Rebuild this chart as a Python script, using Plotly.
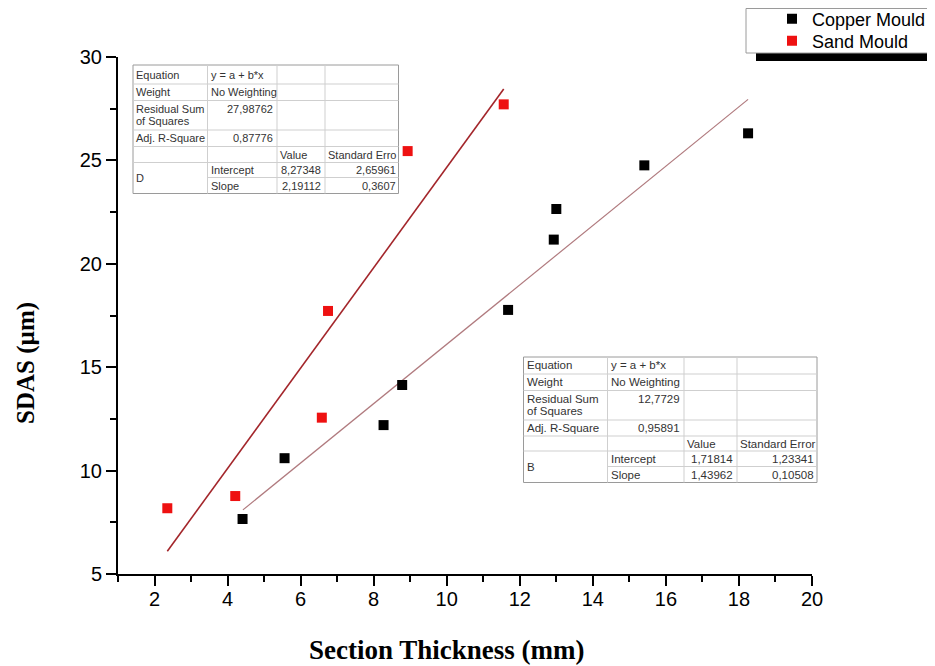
import plotly.graph_objects as go

# ---------------- data ----------------
copper_x = [4.41, 5.56, 8.27, 8.78, 11.68, 12.93, 13.00, 15.41, 18.25]
copper_y = [7.66, 10.6, 12.2, 14.14, 17.77, 21.17, 22.65, 24.76, 26.31]
sand_x = [2.35, 4.21, 6.58, 6.75, 8.93, 11.56]
sand_y = [8.18, 8.77, 12.56, 17.72, 25.45, 27.71]

# fitted lines (end points)
copper_fit_x = [4.42, 18.25]
copper_fit_y = [8.10, 27.95]
sand_fit_x = [2.35, 11.56]
sand_fit_y = [6.10, 28.45]

x_ticks = [2, 4, 6, 8, 10, 12, 14, 16, 18, 20]
y_ticks = [5, 10, 15, 20, 25, 30]

# fit tables (text as in the picture)
fit_labels = ["Equation", "Weight", "Residual Sum", "of Squares", "Adj. R-Square"]
fit_equation = "y = a + b*x"
fit_weight = "No Weighting"
param_names = ["Intercept", "Slope"]

sand_name = "D"
sand_rss = "27,98762"
sand_adjr2 = "0,87776"
sand_values = ["8,27348", "2,19112"]
sand_errors = ["2,65961", "0,3607"]
sand_err_header = "Standard Erro"

copper_name = "B"
copper_rss = "12,7729"
copper_adjr2 = "0,95891"
copper_values = ["1,71814", "1,43962"]
copper_errors = ["1,23341", "0,10508"]
copper_err_header = "Standard Error"

# ---------------- layout helpers ----------------
# the page body has an 8px margin, so the figure is drawn 8px smaller and
# all positions below are given in window pixels
OFF = 8
W, H = 935 - OFF, 666 - OFF
ML, MR, MT, MB = 118 - OFF, 123, 57 - OFF, 92
PW, PH = W - ML - MR, H - MT - MB


def px_x(px):
    return (px - (ML + OFF)) / PW


def px_y(py):
    return ((MT + OFF + PH) - py) / PH


def cx(px):
    return (px - OFF) / W


def cy(py):
    return 1 - (py - OFF) / H


SANS = "Liberation Sans, Arial, sans-serif"
SERIF = "Liberation Serif, Times New Roman, serif"

fig = go.Figure()

fig.add_trace(go.Scatter(x=sand_fit_x, y=sand_fit_y, mode="lines",
                         line=dict(color="#a3262b", width=1.6), showlegend=False,
                         hoverinfo="skip"))
fig.add_trace(go.Scatter(x=copper_fit_x, y=copper_fit_y, mode="lines",
                         line=dict(color="#b07a7e", width=1.2), showlegend=False,
                         hoverinfo="skip"))
fig.add_trace(go.Scatter(x=copper_x, y=copper_y, mode="markers", name="Copper Mould",
                         marker=dict(symbol="square", size=10, color="black"),
                         legend="legend"))
fig.add_trace(go.Scatter(x=sand_x, y=sand_y, mode="markers", name="Sand Mould",
                         marker=dict(symbol="square", size=10, color="#ee1111"),
                         legend="legend2"))

shapes = []
annotations = []


def text(px, py, s, anchor="left", size=11, color="#333333"):
    annotations.append(dict(x=px_x(px), y=px_y(py), xref="paper", yref="paper",
                            text=s, showarrow=False, xanchor=anchor, yanchor="middle",
                            font=dict(family=SANS, size=size, color=color),
                            borderpad=0, borderwidth=0))


def draw_table(cols, rows, name, rss, adjr2, values, errors, err_header, size):
    shapes.append(dict(type="rect", xref="paper", yref="paper",
                       x0=px_x(cols[0]), x1=px_x(cols[-1]), y0=px_y(rows[-1]), y1=px_y(rows[0]),
                       fillcolor="white", line=dict(color="#9a9a9a", width=1), layer="above"))
    for i, r in enumerate(rows[1:-1], start=1):
        x0 = cols[1] if i == 6 else cols[0]
        shapes.append(dict(type="line", xref="paper", yref="paper",
                           x0=px_x(x0), x1=px_x(cols[-1]), y0=px_y(r), y1=px_y(r),
                           line=dict(color="#cfcfcf", width=1), layer="above"))
    for c in cols[1:-1]:
        shapes.append(dict(type="line", xref="paper", yref="paper",
                           x0=px_x(c), x1=px_x(c), y0=px_y(rows[-1]), y1=px_y(rows[0]),
                           line=dict(color="#cfcfcf", width=1), layer="above"))
    mid = [(rows[i] + rows[i + 1]) / 2 for i in range(len(rows) - 1)]
    lx = cols[0] + 3
    text(lx, mid[0], fit_labels[0], size=size)
    text(lx, mid[1], fit_labels[1], size=size)
    text(lx, mid[2] - 6, fit_labels[2], size=size)
    text(lx, mid[2] + 6, fit_labels[3], size=size)
    text(lx, mid[3], fit_labels[4], size=size)
    text(lx, rows[6], name, size=size)
    text(cols[1] + 3, mid[0], fit_equation, size=size)
    text(cols[1] + 3, mid[1], fit_weight, size=size)
    text(cols[2] - 4, mid[2] - 6, rss, anchor="right", size=size)
    text(cols[2] - 4, mid[3], adjr2, anchor="right", size=size)
    text(cols[2] + 3, mid[4], "Value", size=size)
    text(cols[3] + 3, mid[4], err_header, size=size)
    for k in range(2):
        text(cols[1] + 3, mid[5 + k], param_names[k], size=size)
        text(cols[3] - 4, mid[5 + k], values[k], anchor="right", size=size)
        text(cols[4] - 3, mid[5 + k], errors[k], anchor="right", size=size)


draw_table([133, 207.5, 277, 325, 398.5],
           [65, 84, 100.5, 130, 146.5, 162.5, 177.5, 193.5],
           sand_name, sand_rss, sand_adjr2, sand_values, sand_errors, sand_err_header, 11)
draw_table([523.5, 607.5, 684, 737, 817],
           [357, 374, 390.5, 420, 436, 451, 466.5, 482.5],
           copper_name, copper_rss, copper_adjr2, copper_values, copper_errors,
           copper_err_header, 11.5)

# legend frame with shadow
shapes.append(dict(type="rect", xref="paper", yref="paper",
                   x0=px_x(756), x1=px_x(945), y0=px_y(61), y1=px_y(14),
                   fillcolor="black", line=dict(width=0), layer="below"))
shapes.append(dict(type="rect", xref="paper", yref="paper",
                   x0=px_x(746), x1=px_x(945), y0=px_y(53), y1=px_y(8.5),
                   fillcolor="white", line=dict(color="#9a9a9a", width=1), layer="below"))

# axis titles
annotations.append(dict(x=px_x(447), y=px_y(650), xref="paper", yref="paper",
                        text="Section Thickness (mm)", showarrow=False,
                        xanchor="center", yanchor="middle",
                        font=dict(family=SERIF, size=27, color="black", weight="bold")))
annotations.append(dict(x=px_x(26), y=px_y(363), xref="paper", yref="paper",
                        text="SDAS (µm)", showarrow=False, textangle=-90,
                        xanchor="center", yanchor="middle",
                        font=dict(family=SERIF, size=25, color="black", weight="bold")))

legend_style = dict(xref="container", yref="container", xanchor="left", yanchor="middle",
                    bgcolor="rgba(0,0,0,0)", borderwidth=0,
                    font=dict(family=SANS, size=18, color="black"))

fig.update_layout(
    width=W, height=H,
    margin=dict(l=ML, r=MR, t=MT, b=MB, autoexpand=False),
    paper_bgcolor="white", plot_bgcolor="white",
    shapes=shapes, annotations=annotations,
    showlegend=True,
    legend=dict(x=cx(772), y=cy(19), **legend_style),
    legend2=dict(x=cx(772), y=cy(41), **legend_style),
    xaxis=dict(range=[1, 20], tickmode="array", tickvals=x_ticks,
               ticks="outside", ticklen=10, tickwidth=2, tickcolor="black",
               showline=True, linewidth=2, linecolor="black",
               showgrid=False, zeroline=False, ticklabelstandoff=-4,
               tickfont=dict(family=SANS, size=20, color="black"),
               minor=dict(dtick=1, tick0=1, ticks="outside", ticklen=6, tickwidth=2,
                          tickcolor="black", showgrid=False)),
    yaxis=dict(range=[5, 30], tickmode="array", tickvals=y_ticks,
               ticks="outside", ticklen=10, tickwidth=2, tickcolor="black",
               showline=True, linewidth=2, linecolor="black",
               showgrid=False, zeroline=False, ticklabelstandoff=0,
               tickfont=dict(family=SANS, size=20, color="black"),
               minor=dict(dtick=2.5, tick0=5, ticks="outside", ticklen=6, tickwidth=2,
                          tickcolor="black", showgrid=False)),
)

fig.write_html("out.html")
